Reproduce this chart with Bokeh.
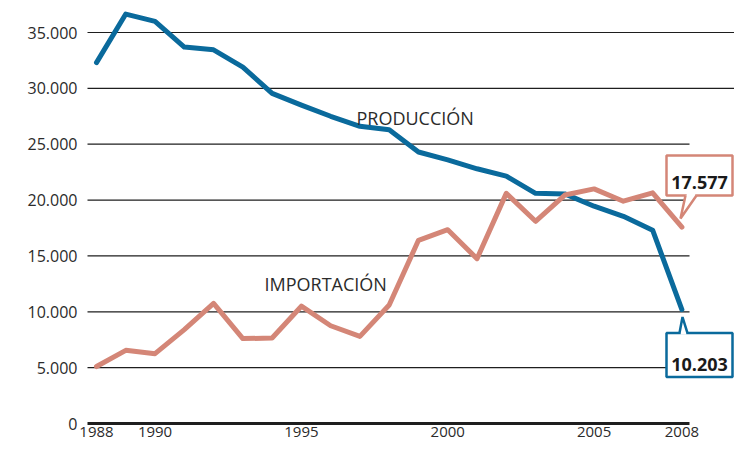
from bokeh.plotting import figure
from bokeh.models import Range1d, FixedTicker, Label
from bokeh.core.properties import value
from bokeh.embed import file_html
from bokeh.resources import INLINE

# ---------------- data ----------------
years = list(range(1988, 2009))
produccion = [32300, 36650, 36000, 33700, 33450, 31900, 29550, 28500, 27500, 26600,
              26300, 24300, 23600, 22800, 22150, 20600, 20550, 19450, 18550, 17300, 10203]
importacion = [5100, 6550, 6250, 8400, 10750, 7600, 7650, 10500, 8750, 7800,
               10600, 16400, 17350, 14750, 20600, 18100, 20450, 21000, 19900, 20650, 17577]
y_ticks = [0, 5000, 10000, 15000, 20000, 25000, 30000, 35000]
y_tick_labels = ["0", "5.000", "10.000", "15.000", "20.000", "25.000", "30.000", "35.000"]
x_ticks = [1988, 1990, 1995, 2000, 2005, 2008]
x_tick_labels = ["1988", "1990", "1995", "2000", "2005", "2008"]
series_names = ["PRODUCCIÓN", "IMPORTACIÓN"]
end_labels = ["10.203", "17.577"]

# ---------------- style / layout ----------------
BLUE = "#0a6a9c"
SALMON = "#d48677"
INK = "#2b2b2b"
FONT = value("Open Sans")

W, H = 734, 446
LEFT = 60
X_ORIGIN_PX, XPX = 96.0, 29.27          # screen x of 1988, px per year
Y_ZERO_PX, YPX = 423.0, 391.0 / 35000   # screen y of 0, px per unit

X0 = 1988 - (X_ORIGIN_PX - LEFT) / XPX
X1 = 1988 + (W - X_ORIGIN_PX) / XPX
Y1 = Y_ZERO_PX / YPX
Y0 = -(H - Y_ZERO_PX) / YPX
GRID_X0 = 1988 - (X_ORIGIN_PX - 87) / XPX
GRID_X1 = 1988 + (689 - X_ORIGIN_PX) / XPX


def dx(px):
    return px / XPX


def dy(px):  # screen px downward -> data delta
    return -px / YPX


p = figure(width=W, height=H, x_range=Range1d(X0, X1), y_range=Range1d(Y0, Y1),
           output_backend="svg", toolbar_location=None, title=None,
           x_axis_location=None, y_axis_location="left",
           min_border_left=LEFT, min_border_right=0, min_border_top=0, min_border_bottom=0,
           background_fill_color="white", border_fill_color="white",
           outline_line_color=None)
p.grid.visible = False

ax = p.yaxis[0]
ax.ticker = FixedTicker(ticks=y_ticks)
ax.major_label_overrides = {t: l for t, l in zip(y_ticks, y_tick_labels)}
ax.axis_line_color = None
ax.major_tick_line_color = None
ax.minor_tick_line_color = None
ax.major_tick_in = 0
ax.major_tick_out = 0
ax.major_label_standoff = -17
ax.major_label_text_font = "Open Sans"
ax.major_label_text_font_size = "16px"
ax.major_label_text_color = INK

# grid lines
gy = y_ticks[1:]
gx1 = [X1 if t >= 30000 else GRID_X1 for t in gy]
p.segment(x0=[GRID_X0] * len(gy), y0=gy, x1=gx1, y1=gy, line_color="#1e1e1e", line_width=1.2)
# baseline
p.segment(x0=[GRID_X0], y0=[0], x1=[GRID_X1], y1=[0], line_color="#1e1e1e", line_width=3)

# x tick labels
p.text(x=x_ticks, y=[0] * len(x_ticks), text=x_tick_labels, text_align="center",
       text_baseline="top", y_offset=3, text_font=FONT, text_font_size="15px",
       text_color=INK)

# series
p.line(years, produccion, line_color=BLUE, line_width=5, line_join="round", line_cap="round")
p.line(years, importacion, line_color=SALMON, line_width=5, line_join="round", line_cap="round")

# series names
p.add_layout(Label(x=1988 + (356 - X_ORIGIN_PX) / XPX, y=27358, text=series_names[0],
                   text_font="Open Sans", text_font_size="18px", text_color=INK,
                   text_baseline="alphabetic", text_align="left"))
p.add_layout(Label(x=1988 + (264 - X_ORIGIN_PX) / XPX, y=12506, text=series_names[1],
                   text_font="Open Sans", text_font_size="18px", text_color=INK,
                   text_baseline="alphabetic", text_align="left"))


def callout(ex, ey, color, box_l, box_r, box_t, box_b, base0, base1, apex, on_top, text, tx, ty):
    l, r = ex + dx(box_l), ex + dx(box_r)
    t, b = ey + dy(box_t), ey + dy(box_b)
    p.patch([l, r, r, l], [t, t, b, b], fill_color="white", line_color=color, line_width=2.5)
    edge = t if on_top else b
    bx0, bx1 = ex + dx(base0), ex + dx(base1)
    axp, ayp = ex + dx(apex[0]), ey + dy(apex[1])
    p.quad(left=bx0 + dx(1.2), right=bx1 - dx(1.2), top=edge - dy(1.6), bottom=edge + dy(1.6),
           fill_color="white", line_color=None)
    p.patch([bx0, axp, bx1], [edge, ayp, edge], fill_color="white", line_color=None)
    p.line([bx0, axp, bx1], [edge, ayp, edge], line_color=color, line_width=2.5)
    p.add_layout(Label(x=ex, y=ey, x_offset=tx, y_offset=ty, text=text,
                       text_font="Open Sans", text_font_style="bold", text_font_size="18px",
                       text_color="#1a1a1a", text_align="center", text_baseline="alphabetic"))


callout(years[-1], produccion[-1], BLUE, -15.4, 50.6, 23.5, 67.5, -2.4, 5.6, (0.6, 7.5),
        True, end_labels[0], 17.6, -54.5)
callout(years[-1], importacion[-1], SALMON, -15.4, 50.6, -71.6, -31.6, 3.6, 14.6, (-1.4, -8.6),
        False, end_labels[1], 17.6, 44.6)

open("out.html", "w").write(file_html(p, INLINE))
